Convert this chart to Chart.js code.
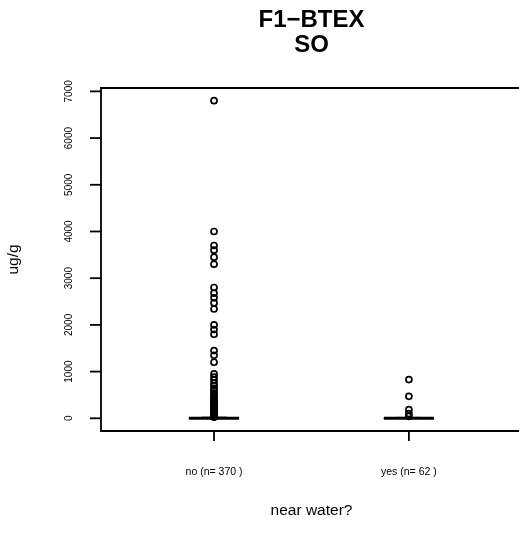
<!DOCTYPE html>
<html><head><meta charset="utf-8">
<script src="https://cdn.jsdelivr.net/npm/chart.js@4/dist/chart.umd.min.js"></script>
<style>html,body{margin:0;padding:0;overflow:hidden;background:#fff}</style>
</head><body>
<canvas id="c" width="519" height="536"></canvas>
<script>
// ---- data ----
const categories = ["no (n= 370 )", "yes (n= 62 )"];
// [lower whisker, Q1, median, Q3, upper whisker]
const noBox = [0, 0.5, 3, 10, 24];
const yesBox = [0, 0.5, 2, 8, 20];
const noOutliers = [6800, 4000, 3700, 3600, 3450, 3300, 2800, 2680, 2580, 2470, 2340,
  2000, 1900, 1800, 1450, 1350, 1200, 950, 880, 820, 750, 700, 640, 590, 540, 500, 460,
  420, 390, 360, 330, 300, 280, 260, 240, 220, 200, 185, 170, 155, 140, 130, 120, 110,
  100, 92, 85, 78, 70, 64, 58, 52, 47, 42, 38, 34, 30, 27];
const yesOutliers = [830, 470, 185, 100, 40];
const yTicks = [0, 1000, 2000, 3000, 4000, 5000, 6000, 7000];
const titleLines = ["F1\u2212BTEX", "SO"];
const xTitle = "near water?";
const yTitle = "ug/g";

// ---- build datasets ----
const boxes = [noBox, yesBox];
const outliers = [noOutliers, yesOutliers];
const HW = 0.128; // half box width (x units)
const datasets = [];
boxes.forEach((b, i) => {
  const x = i + 1;
  datasets.push({type:'scatter', showLine:true, data:[{x, y:b[0]},{x, y:b[1]}], borderColor:'#000', borderWidth:1, borderDash:[3,3], pointRadius:0});
  datasets.push({type:'scatter', showLine:true, data:[{x, y:b[3]},{x, y:b[4]}], borderColor:'#000', borderWidth:1, borderDash:[3,3], pointRadius:0});
  datasets.push({type:'scatter', showLine:true, data:[{x:x-HW/2, y:b[0]},{x:x+HW/2, y:b[0]}], borderColor:'#000', borderWidth:1, pointRadius:0});
  datasets.push({type:'scatter', showLine:true, data:[{x:x-HW/2, y:b[4]},{x:x+HW/2, y:b[4]}], borderColor:'#000', borderWidth:1, pointRadius:0});
  datasets.push({type:'scatter', showLine:true, data:[{x:x-HW,y:b[1]},{x:x+HW,y:b[1]},{x:x+HW,y:b[3]},{x:x-HW,y:b[3]},{x:x-HW,y:b[1]}], borderColor:'#000', borderWidth:1, pointRadius:0});
  datasets.push({type:'scatter', showLine:true, data:[{x:x-HW, y:b[2]},{x:x+HW, y:b[2]}], borderColor:'#000', borderWidth:3, pointRadius:0, borderCapStyle:'butt'});
  datasets.push({type:'scatter', data: outliers[i].map(v => ({x, y:v})), pointStyle:'circle', pointRadius:3, pointBorderWidth:1.7, pointBorderColor:'#000', pointBackgroundColor:'rgba(0,0,0,0)', borderColor:'#000', backgroundColor:'rgba(0,0,0,0)'});
});

const FONT = '"Liberation Sans", Arial, Helvetica, sans-serif';
const PLOT_CENTER_X = 311.5; // centre of the full R plot region (extends past the window)

const decor = {
  id: 'decor',
  afterDraw(chart) {
    const ctx = chart.ctx;
    const a = chart.chartArea;
    const xs = chart.scales.x, ys = chart.scales.y;
    ctx.save();
    ctx.strokeStyle = '#000';
    ctx.fillStyle = '#000';
    ctx.lineWidth = 1.8;
    // frame: right side lies beyond the window edge
    ctx.beginPath();
    ctx.moveTo(a.right + 5, a.top); ctx.lineTo(a.left, a.top);
    ctx.lineTo(a.left, a.bottom); ctx.lineTo(a.right + 5, a.bottom);
    ctx.stroke();
    ctx.font = '10px ' + FONT;
    ctx.textAlign = 'center';
    ctx.textBaseline = 'middle';
    yTicks.forEach(v => {
      const py = ys.getPixelForValue(v);
      ctx.beginPath(); ctx.moveTo(a.left - 11, py); ctx.lineTo(a.left, py); ctx.stroke();
      ctx.save(); ctx.translate(69, py); ctx.rotate(-Math.PI/2);
      ctx.fillText(String(v), 0, 0); ctx.restore();
    });
    ctx.font = '10.5px ' + FONT;
    categories.forEach((c, i) => {
      const px = xs.getPixelForValue(i + 1);
      ctx.beginPath(); ctx.moveTo(px, a.bottom); ctx.lineTo(px, a.bottom + 10); ctx.stroke();
      ctx.fillText(c, px, 472);
    });
    const cx = PLOT_CENTER_X;
    ctx.font = '15.5px ' + FONT;
    ctx.fillText(xTitle, cx, 511);
    ctx.save(); ctx.translate(14, (a.top + a.bottom) / 2); ctx.rotate(-Math.PI/2);
    ctx.fillText(yTitle, 0, 0); ctx.restore();
    ctx.font = 'bold 24px ' + FONT;
    ctx.fillText(titleLines[0], cx, 20);
    ctx.fillText(titleLines[1], cx, 45);
    ctx.restore();
  }
};

new Chart(document.getElementById('c'), {
  type: 'scatter',
  data: { datasets },
  options: {
    responsive: false,
    animation: false,
    devicePixelRatio: 1,
    layout: { autoPadding: false, padding: { left: 101, top: 88, right: 0, bottom: 105 } },
    plugins: { legend: { display: false }, tooltip: { enabled: false }, title: { display: false } },
    scales: {
      x: { type: 'linear', min: 0.42, max: 2.565, display: false },
      y: { type: 'linear', min: -272, max: 7072, display: false }
    }
  },
  plugins: [decor]
});
</script>
</body></html>
